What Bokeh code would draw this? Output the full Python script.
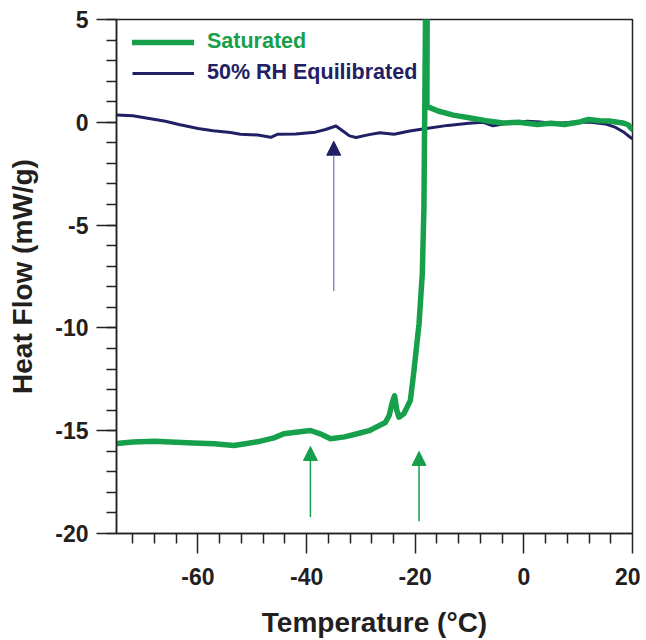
from bokeh.plotting import figure
from bokeh.models import (Legend, LegendItem, FixedTicker, Arrow, NormalHead,
                          Range1d, PrintfTickFormatter)
from bokeh.embed import file_html
from bokeh.resources import INLINE

# ---- data ----
sat_T = [-75, -72, -68, -64, -61, -57, -53.4, -51, -48.5, -46, -44.2, -42, -39.3,
         -37.5, -35.6, -33, -30.7, -28.5, -27.0, -25.5, -24.8, -24.2, -23.8, -23.4,
         -23.0, -22.1, -21.5, -20.9, -20.3, -19.3, -18.7, -18.4, -18.3, -18.2, -18.1,
         -17.8, -17.85, -17.65, -15.8, -13, -10.1, -7, -3.8, -1, 2.5, 5, 7.5, 10,
         11.9, 14, 15.7, 18.2, 19.2, 19.7, 20]
sat_Q = [-15.62, -15.55, -15.51, -15.56, -15.6, -15.64, -15.72, -15.62, -15.51, -15.35,
         -15.15, -15.08, -14.99, -15.15, -15.39, -15.3, -15.15, -15.0, -14.8, -14.6,
         -14.26, -13.6, -13.3, -14.0, -14.34, -14.18, -13.86, -13.53, -12.23, -9.8,
         -7.37, -4.13, -0.86, 2.0, 5.6, 5.6, 0.8, 0.75, 0.55, 0.35, 0.22, 0.08, -0.03,
         0.0, -0.11, -0.05, -0.11, 0.0, 0.14, 0.08, 0.06, -0.03, -0.12, -0.28, -0.35]

rh_T = [-75, -72, -69.8, -66, -63.5, -60, -57.2, -54, -52.2, -49, -46.6, -45.3, -42,
        -40, -38.4, -36.5, -34.6, -33.2, -32.1, -30.9, -28.5, -26.5, -23.9, -21, -18.3,
        -14, -10.1, -7.5, -5.7, -3, 0.6, 3, 5.6, 8.7, 12, 15.0, 16.9, 18.5, 19.7, 20]
rh_Q = [0.35, 0.32, 0.22, 0.05, -0.11, -0.3, -0.41, -0.5, -0.58, -0.62, -0.73, -0.58,
        -0.57, -0.52, -0.48, -0.35, -0.18, -0.45, -0.66, -0.74, -0.6, -0.51, -0.58,
        -0.42, -0.31, -0.15, -0.05, 0.0, -0.17, -0.05, 0.05, 0.02, -0.06, 0.0, 0.02,
        -0.08, -0.25, -0.5, -0.75, -0.8]

arrow_T = [-35, -39.3, -19.3]
arrow_tip = [-0.92, -15.77, -16.01]
arrow_tail = [-8.2, -19.2, -19.4]

x_major = [-60, -40, -20, 0, 20]
x_minor = [-72, -68, -64, -56, -52, -48, -44, -36, -32, -28, -24, -16, -12, -8, -4,
           4, 8, 12, 16]
y_major = [-20, -15, -10, -5, 0, 5]
y_minor = list(range(-20, 6))

GREEN = "#17a04b"
NAVY = "#202064"
FONT = "Liberation Sans"

p = figure(width=640, height=640, x_range=Range1d(-75, 20), y_range=Range1d(-20, 5),
           output_backend="svg", toolbar_location=None,
           min_border_left=116, min_border_right=8, min_border_top=19,
           min_border_bottom=107)
p.grid.visible = False
p.outline_line_color = "#222222"
p.outline_line_width = 1.5
p.background_fill_color = "white"
p.border_fill_color = "white"

for ax in (p.xaxis[0], p.yaxis[0]):
    ax.axis_line_color = "#222222"
    ax.axis_line_width = 1.5
    ax.major_tick_line_color = "#222222"
    ax.minor_tick_line_color = "#222222"
    ax.major_tick_line_width = 1.5
    ax.minor_tick_line_width = 1.5
    ax.major_tick_in = 0
    ax.major_tick_out = 20
    ax.minor_tick_in = 0
    ax.minor_tick_out = 10
    ax.formatter = PrintfTickFormatter(format="%d")
    ax.major_label_text_font = FONT
    ax.major_label_text_font_style = "bold"
    ax.major_label_text_font_size = "23px"
    ax.major_label_text_color = "#231f20"
    ax.axis_label_text_font = FONT
    ax.axis_label_text_font_style = "bold"
    ax.axis_label_text_font_size = "28px"
    ax.axis_label_text_color = "#231f20"

p.xaxis[0].ticker = FixedTicker(ticks=x_major, minor_ticks=x_minor)
p.yaxis[0].ticker = FixedTicker(ticks=y_major, minor_ticks=y_minor)
p.xaxis[0].axis_label = "Temperature (°C)"
p.yaxis[0].axis_label = "Heat Flow (mW/g)"
p.xaxis[0].major_label_standoff = 14
p.xaxis[0].axis_label_standoff = 19
p.yaxis[0].major_label_standoff = 8
p.yaxis[0].axis_label_standoff = 14

r_rh = p.line(rh_T, rh_Q, line_color=NAVY, line_width=3, line_join="round")
r_sat = p.line(sat_T, sat_Q, line_color=GREEN, line_width=5.5, line_join="round",
               line_cap="round")

# arrows
arrow_colors = [(NAVY, "#8c8db2"), (GREEN, GREEN), (GREEN, GREEN)]
for t, tip, tail, (hc, sc) in zip(arrow_T, arrow_tip, arrow_tail, arrow_colors):
    p.add_layout(Arrow(end=NormalHead(size=14, fill_color=hc, line_color=hc, line_width=1),
                       x_start=t, y_start=tail, x_end=t, y_end=tip,
                       line_color=sc, line_width=1.5))

# legends (two, so that each label has its own colour)
leg1 = Legend(items=[LegendItem(label="Saturated", renderers=[r_sat])],
              location=(16, 479), label_text_color=GREEN)
leg2 = Legend(items=[LegendItem(label="50% RH Equilibrated", renderers=[r_rh])],
              location=(16, 448), label_text_color=NAVY)
for lg in (leg1, leg2):
    lg.padding = 0
    lg.margin = 0
    lg.spacing = 0
    lg.glyph_width = 62
    lg.glyph_height = 20
    lg.label_height = 20
    lg.label_standoff = 13
    lg.label_text_font = FONT
    lg.label_text_font_style = "bold"
    lg.label_text_font_size = "21.5px"
    lg.border_line_alpha = 0
    lg.background_fill_alpha = 0
    p.add_layout(lg)

open("out.html", "w").write(file_html(p, INLINE))
